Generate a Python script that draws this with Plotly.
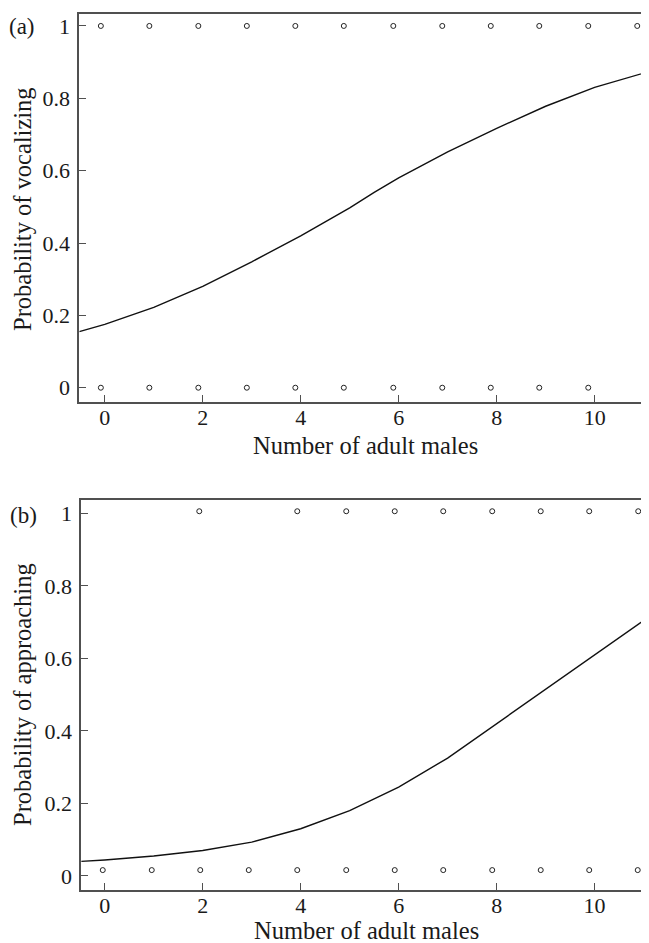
import plotly.graph_objects as go

# ---------------- data ----------------
# Panel (a): vocalizing
a_pts_x_top = [-0.08, 0.91, 1.91, 2.90, 3.89, 4.88, 5.89, 6.89, 7.88, 8.87, 9.87, 10.87]
a_pts_y_top = [1, 1, 1, 1, 1, 1, 1, 1, 1, 1, 1, 1]
a_pts_x_bot = [-0.08, 0.91, 1.91, 2.90, 3.89, 4.88, 5.89, 6.89, 7.88, 8.87, 9.87]
a_pts_y_bot = [0, 0, 0, 0, 0, 0, 0, 0, 0, 0, 0]
a_curve_x = [-0.52, 0, 1, 2, 3, 4, 5, 5.5, 6, 7, 8, 9, 10, 11.11]
a_curve_y = [0.155, 0.175, 0.222, 0.280, 0.348, 0.420, 0.497, 0.540, 0.580, 0.652, 0.717, 0.778, 0.830, 0.874]

# Panel (b): approaching
b_pts_x_top = [1.93, 3.93, 4.93, 5.92, 6.91, 7.91, 8.90, 9.89, 10.89]
b_pts_y_top = [1.006, 1.006, 1.006, 1.006, 1.006, 1.006, 1.006, 1.006, 1.006]
b_pts_x_bot = [-0.04, 0.96, 1.95, 2.94, 3.93, 4.93, 5.92, 6.91, 7.91, 8.90, 9.89, 10.88]
b_pts_y_bot = [0.016, 0.016, 0.016, 0.016, 0.016, 0.016, 0.016, 0.016, 0.016, 0.016, 0.016, 0.016]
b_curve_x = [-0.48, 0, 1, 2, 3, 4, 5, 6, 7, 8, 9, 10, 11.11]
b_curve_y = [0.040, 0.044, 0.055, 0.070, 0.093, 0.130, 0.180, 0.245, 0.325, 0.420, 0.515, 0.610, 0.715]

x_tickvals = [0, 2, 4, 6, 8, 10]
x_ticktext = ["0", "2", "4", "6", "8", "10"]
y_tickvals = [0, 0.2, 0.4, 0.6, 0.8, 1]
y_ticktext = ["0", "0.2", "0.4", "0.6", "0.8", "1"]

x_title = "Number of adult males"
a_y_title = "Probability of vocalizing"
b_y_title = "Probability of approaching"
panel_labels = ["(a)", "(b)"]

# ---------------- style ----------------
OFF = 8  # page body margin
W, H = 649 - OFF, 943 - OFF
FONT = "Liberation Serif"
FS_TICK = 22
FS_TITLE = 24.5
FS_PANEL = 23
TXT = "#1a1a1a"
AX = "#505050"

def px_x(p):
    return (p - OFF) / W

def px_y(p):
    return 1 - (p - OFF) / H

marker_style = dict(symbol="circle-open", size=5, color="#222222", line=dict(width=1, color="#222222"))
line_style = dict(color="#111111", width=1.4)

fig = go.Figure()

# Panel a
fig.add_trace(go.Scatter(x=a_curve_x, y=a_curve_y, mode="lines", line=line_style,
                         xaxis="x", yaxis="y", showlegend=False, hoverinfo="skip"))
fig.add_trace(go.Scatter(x=a_pts_x_top, y=a_pts_y_top, mode="markers", marker=marker_style,
                         xaxis="x", yaxis="y", showlegend=False, cliponaxis=False))
fig.add_trace(go.Scatter(x=a_pts_x_bot, y=a_pts_y_bot, mode="markers", marker=marker_style,
                         xaxis="x", yaxis="y", showlegend=False, cliponaxis=False))
# Panel b
fig.add_trace(go.Scatter(x=b_curve_x, y=b_curve_y, mode="lines", line=line_style,
                         xaxis="x2", yaxis="y2", showlegend=False, hoverinfo="skip"))
fig.add_trace(go.Scatter(x=b_pts_x_top, y=b_pts_y_top, mode="markers", marker=marker_style,
                         xaxis="x2", yaxis="y2", showlegend=False, cliponaxis=False))
fig.add_trace(go.Scatter(x=b_pts_x_bot, y=b_pts_y_bot, mode="markers", marker=marker_style,
                         xaxis="x2", yaxis="y2", showlegend=False, cliponaxis=False))

common_x = dict(
    tickvals=x_tickvals, ticktext=x_ticktext, ticks="inside", ticklen=7, tickwidth=1.3,
    tickcolor=AX, showline=True, linecolor=AX, linewidth=1.6, mirror=True,
    showgrid=False, zeroline=False, automargin=False,
    tickfont=dict(family=FONT, size=FS_TICK, color=TXT), ticklabelstandoff=-5,
)
common_y = dict(
    tickvals=y_tickvals, ticktext=y_ticktext, ticks="inside", ticklen=7, tickwidth=1.3,
    tickcolor=AX, showline=True, linecolor=AX, linewidth=1.6, mirror=False,
    showgrid=False, zeroline=False, automargin=False,
    tickfont=dict(family=FONT, size=FS_TICK, color=TXT), ticklabelstandoff=3,
)

fig.update_layout(
    width=W, height=H,
    margin=dict(l=0, r=0, t=0, b=0),
    paper_bgcolor="white", plot_bgcolor="white",
    template="none",
    font=dict(family=FONT, size=FS_TICK, color=TXT),
    xaxis=dict(common_x, domain=[px_x(79.3), 1], range=[-0.52, 11.11], anchor="y"),
    yaxis=dict(common_y, domain=[px_y(402), px_y(14)], range=[-0.0395, 1.033], anchor="x"),
    xaxis2=dict(common_x, domain=[px_x(81.2), 1], range=[-0.48, 11.11], anchor="y2"),
    yaxis2=dict(common_y, domain=[px_y(890.2), px_y(500)], range=[-0.0395, 1.037], anchor="x2"),
)

title_font = dict(family=FONT, size=FS_TITLE, color=TXT)
panel_font = dict(family=FONT, size=FS_PANEL, color=TXT)
annotations = [
    dict(text=x_title, x=px_x(365), y=px_y(445), xref="paper", yref="paper",
         showarrow=False, xanchor="center", yanchor="middle", font=title_font),
    dict(text=x_title, x=px_x(366), y=px_y(930), xref="paper", yref="paper",
         showarrow=False, xanchor="center", yanchor="middle", font=title_font),
    dict(text=a_y_title, x=px_x(22), y=px_y(209), xref="paper", yref="paper", textangle=-90,
         showarrow=False, xanchor="center", yanchor="middle", font=title_font),
    dict(text=b_y_title, x=px_x(22), y=px_y(695), xref="paper", yref="paper", textangle=-90,
         showarrow=False, xanchor="center", yanchor="middle", font=title_font),
    dict(text=panel_labels[0], x=px_x(22), y=px_y(26), xref="paper", yref="paper",
         showarrow=False, xanchor="center", yanchor="middle", font=panel_font),
    dict(text=panel_labels[1], x=px_x(23), y=px_y(515), xref="paper", yref="paper",
         showarrow=False, xanchor="center", yanchor="middle", font=panel_font),
]
fig.update_layout(annotations=annotations)

fig.write_html("out.html")
